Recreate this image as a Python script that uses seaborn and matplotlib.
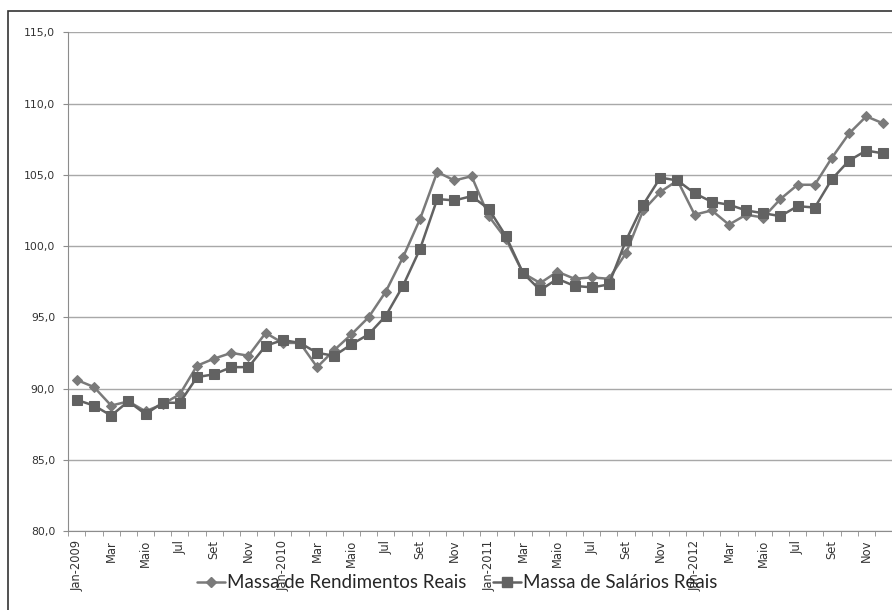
import numpy as np
import pandas as pd
import matplotlib
matplotlib.use("Agg")
import matplotlib.pyplot as plt
import seaborn as sns
from matplotlib.patches import Rectangle
from matplotlib.ticker import FuncFormatter, MultipleLocator

# Data: Jan-2009 .. Dez-2012 (índices mensais)
months = ["Jan", "Fev", "Mar", "Abr", "Maio", "Jun", "Jul", "Ago", "Set", "Out", "Nov", "Dez"]
years = [2009, 2010, 2011, 2012]
period_labels = [f"{m}-{y}" if m == "Jan" else m for y in years for m in months]

rendimentos = [90.6, 90.1, 88.8, 89.1, 88.4, 88.9, 89.6, 91.6, 92.1, 92.5, 92.3, 93.9,
               93.2, 93.2, 91.5, 92.7, 93.8, 95.0, 96.8, 99.2, 101.9, 105.2, 104.6, 104.9,
               102.1, 100.5, 98.1, 97.4, 98.2, 97.7, 97.8, 97.7, 99.5, 102.5, 103.8, 104.6,
               102.2, 102.5, 101.5, 102.2, 102.0, 103.3, 104.3, 104.3, 106.2, 107.9, 109.1, 108.6]
salarios = [89.2, 88.8, 88.1, 89.1, 88.2, 89.0, 89.0, 90.8, 91.0, 91.5, 91.5, 93.0,
            93.4, 93.2, 92.5, 92.3, 93.1, 93.8, 95.1, 97.2, 99.8, 103.3, 103.2, 103.5,
            102.6, 100.7, 98.1, 96.9, 97.7, 97.2, 97.1, 97.3, 100.4, 102.9, 104.8, 104.6,
            103.7, 103.1, 102.9, 102.5, 102.3, 102.1, 102.8, 102.7, 104.7, 106.0, 106.7, 106.5]

series_names = ["Massa de Rendimentos Reais", "Massa de Salários Reais"]

df = pd.DataFrame({
    "idx": list(range(len(rendimentos))) * 2,
    "valor": rendimentos + salarios,
    "serie": [series_names[0]] * len(rendimentos) + [series_names[1]] * len(salarios),
})

sns.set_style("white")
plt.rcParams["font.family"] = ["DejaVu Sans"]

W, H = 892, 610
fig = plt.figure(figsize=(W / 100, H / 100), dpi=100)
left, top, bottom = 68.3, 32.3, 531
ax = fig.add_axes([left / W, 1 - bottom / H, 1 - left / W, (bottom - top) / H])

palette = {series_names[0]: "#7a7a7a", series_names[1]: "#626262"}
msize = {series_names[0]: 5, series_names[1]: 7}
sns.lineplot(data=df, x="idx", y="valor", hue="serie", style="serie",
             markers={series_names[0]: "D", series_names[1]: "s"},
             dashes=False, palette=palette, linewidth=1.8,
             ax=ax, legend=False)
for line, name in zip(ax.get_lines(), series_names):
    line.set_markersize(msize[name])
    line.set_markeredgecolor(palette[name])
    line.set_markerfacecolor(palette[name])

ax.set_ylim(80, 115)
ax.set_xlim(-0.5, 47.03)
ax.yaxis.set_major_locator(MultipleLocator(5))
ax.yaxis.set_major_formatter(FuncFormatter(lambda v, p: f"{v:.1f}".replace(".", ",")))
ax.grid(axis="y", color="#a8a8a8", linewidth=1)
ax.set_axisbelow(True)

# eixo de categorias: rótulo a cada 2 meses, marcas entre categorias
ax.set_xticks(range(0, 48, 2))
ax.set_xticklabels(period_labels[0::2], rotation=90, fontsize=8.3, va="top")
ax.set_xticks(np.arange(-0.5, 48, 1), minor=True)
ax.tick_params(axis="x", which="major", length=0, pad=6.5)
ax.tick_params(axis="x", which="minor", length=3.6, color="#8c8c8c", direction="out", bottom=True)
ax.tick_params(axis="y", length=3.6, color="#8c8c8c", direction="out", left=True, labelsize=7.8, pad=5.8)
for lab in ax.get_xticklabels() + ax.get_yticklabels():
    lab.set_color("#333333")

ax.set_xlabel("")
ax.set_ylabel("")
for s in ["top", "right"]:
    ax.spines[s].set_visible(False)
ax.spines["left"].set_color("#8c8c8c")
ax.spines["bottom"].set_color("#8c8c8c")

handles = [
    plt.Line2D([], [], color=palette[series_names[0]], marker="D", markersize=msize[series_names[0]], linewidth=1.8),
    plt.Line2D([], [], color=palette[series_names[1]], marker="s", markersize=msize[series_names[1]], linewidth=1.8),
]
fig.legend(handles, series_names, loc="center", bbox_to_anchor=(457 / W, 1 - 583 / H), ncol=2,
           frameon=False, prop={"family": "Lato", "size": 13.5}, handlelength=1.5,
           handletextpad=0.1, columnspacing=1.4)

fig.patches.append(Rectangle((8 / W, -0.01), 1.0, 1 - 11 / H + 0.01,
                             transform=fig.transFigure, fill=False,
                             edgecolor="#333333", linewidth=1.2))

fig.savefig("out.png", dpi=100)
